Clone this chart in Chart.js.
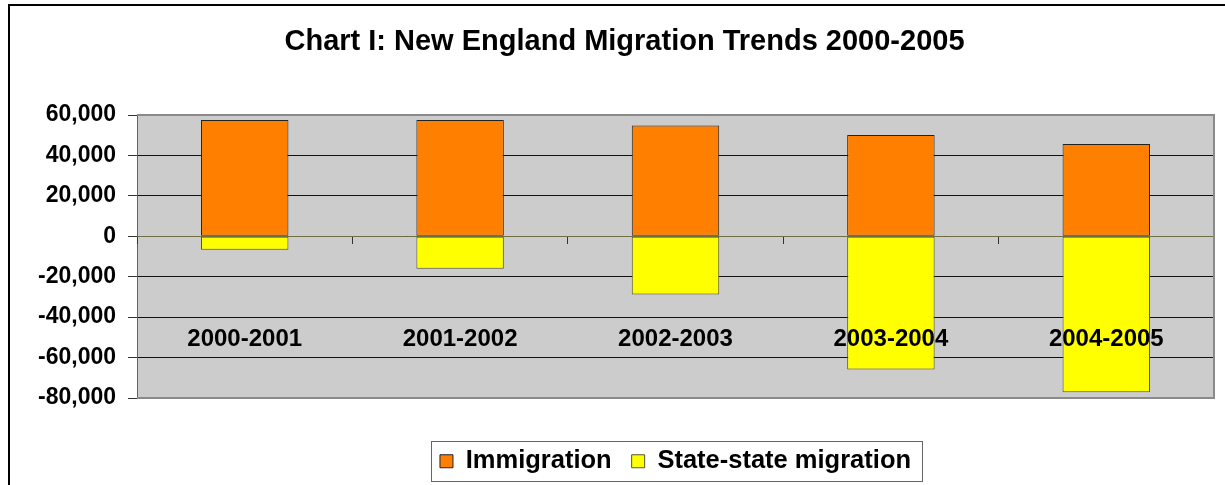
<!DOCTYPE html>
<html>
<head>
<meta charset="utf-8">
<script src="https://cdn.jsdelivr.net/npm/chart.js@4.4.1/dist/chart.umd.min.js"></script>
<style>
  html, body { margin: 0; padding: 0; background: #ffffff; }
  #wrap { position: relative; width: 1225px; height: 485px; }
</style>
</head>
<body>
<div id="wrap"><canvas id="c"></canvas></div>
<script>
const categories = ['2000-2001', '2001-2002', '2002-2003', '2003-2004', '2004-2005'];
const immigration = [57500, 57500, 54800, 50100, 45600];
const stateMigration = [-6700, -16000, -28800, -65900, -77200];
const yTickMin = -80000;
const yTickMax = 60000;
const yTickStep = 20000;
const titleText = 'Chart I: New England Migration Trends 2000-2005';
const seriesNames = ['Immigration', 'State-state migration'];

const FONT = "'Liberation Sans', Arial, sans-serif";

const decorPlugin = {
  id: 'decor',
  beforeDraw(chart) {
    const { ctx, chartArea: a } = chart;
    ctx.save();
    ctx.fillStyle = '#ffffff';
    ctx.fillRect(0, 0, chart.width, chart.height);
    ctx.fillStyle = '#cccccc';
    ctx.fillRect(a.left, a.top, a.right - a.left, a.bottom - a.top);
    ctx.restore();
  },
  afterDraw(chart) {
    const { ctx, chartArea: a } = chart;
    ctx.save();
    // plot area border (top, right, bottom)
    ctx.strokeStyle = '#8a8a8a';
    ctx.lineWidth = 2;
    ctx.beginPath();
    ctx.moveTo(a.left, a.top);
    ctx.lineTo(a.right, a.top);
    ctx.lineTo(a.right, a.bottom);
    ctx.lineTo(a.left, a.bottom);
    ctx.stroke();
    // outer chart border (top and left visible)
    ctx.strokeStyle = '#000000';
    ctx.lineWidth = 2;
    ctx.beginPath();
    ctx.moveTo(9, chart.height + 5);
    ctx.lineTo(9, 5);
    ctx.lineTo(chart.width + 5, 5);
    ctx.stroke();
    // legend frame
    const hb = chart.legend && chart.legend.legendHitBoxes;
    if (hb && hb.length) {
      const first = hb[0], last = hb[hb.length - 1];
      const cy = first.top + first.height / 2;
      const l = Math.round(first.left - 9) + 0.5;
      const r = Math.round(last.left + last.width + 11) + 0.5;
      const t = Math.round(cy - 20) + 0.5;
      const b = Math.round(cy + 20) + 0.5;
      ctx.strokeStyle = '#666666';
      ctx.lineWidth = 1;
      ctx.strokeRect(l, t, r - l, b - t);
    }
    ctx.restore();
  }
};

new Chart(document.getElementById('c'), {
  type: 'bar',
  data: {
    labels: categories,
    datasets: [
      {
        label: seriesNames[0],
        data: immigration,
        backgroundColor: '#ff7f00',
        borderColor: '#222222',
        borderWidth: 1,
        borderSkipped: false
      },
      {
        label: seriesNames[1],
        data: stateMigration,
        backgroundColor: '#ffff00',
        borderColor: '#55552a',
        borderWidth: 1,
        borderSkipped: false
      }
    ]
  },
  plugins: [decorPlugin],
  options: {
    responsive: true,
    maintainAspectRatio: false,
    animation: false,
    devicePixelRatio: 1,
    categoryPercentage: 1.0,
    barPercentage: 0.406,
    layout: { padding: { left: 35, right: 11, top: 0, bottom: 1 } },
    plugins: {
      title: {
        display: true,
        text: titleText,
        color: '#000000',
        font: { family: FONT, size: 29, weight: 'bold', lineHeight: 1.2 },
        padding: { top: 24.5, bottom: 55.7 }
      },
      legend: {
        display: true,
        position: 'bottom',
        fullSize: false,
        labels: {
          color: '#000000',
          font: { family: FONT, size: 25.5, weight: 'bold' },
          boxWidth: 13,
          boxHeight: 13,
          padding: 20
        }
      },
      tooltip: { enabled: false }
    },
    scales: {
      x: {
        type: 'category',
        stacked: true,
        position: { y: 0 },
        grid: {
          display: true,
          drawOnChartArea: false,
          drawTicks: true,
          tickLength: 7,
          tickColor: '#333333',
          offset: true,
          z: 1
        },
        border: { display: true, color: '#6f6f45', width: 1, z: 1 },
        ticks: {
          color: '#000000',
          font: { family: FONT, size: 24, weight: 'bold', lineHeight: 1.2 },
          padding: 82,
          maxRotation: 0,
          autoSkip: false,
          z: 1
        },
        afterFit(scale) { scale.paddingLeft = 0; scale.paddingRight = 0; }
      },
      xs: {
        type: 'category',
        position: 'bottom',
        display: true,
        grid: { display: false },
        border: { display: false },
        ticks: { display: false },
        afterFit(scale) { scale.height = 30.5; scale.paddingLeft = 0; scale.paddingRight = 0; }
      },
      y: {
        stacked: true,
        min: yTickMin,
        max: yTickMax,
        grid: {
          color: (ctx) => (ctx.tick && (ctx.tick.value === yTickMin || ctx.tick.value === yTickMax)) ? '#8a8a8a' : '#111111',
          lineWidth: 1,
          drawTicks: true,
          tickLength: 9,
          tickColor: '#333333'
        },
        border: { display: true, color: '#66664a', width: 1 },
        ticks: {
          stepSize: yTickStep,
          color: '#000000',
          padding: 12,
          font: { family: FONT, size: 23, weight: 'bold' },
          callback: (v) => Number(v).toLocaleString('en-US')
        },
        afterFit(scale) { scale.width = 102; }
      }
    }
  }
});
</script>
</body>
</html>
